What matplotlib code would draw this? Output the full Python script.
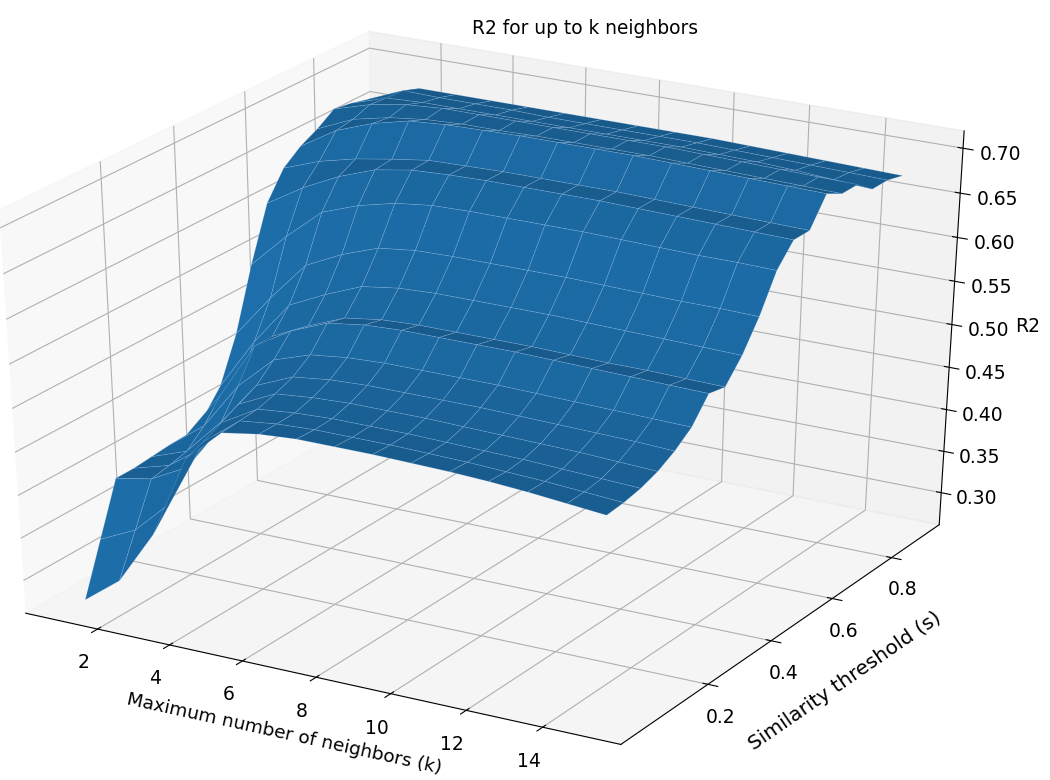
import matplotlib
matplotlib.use("Agg")
import matplotlib.pyplot as plt
import numpy as np

# neighbours on one axis, similarity threshold on the other
k_values = np.arange(1, 16)
s_values = np.arange(0, 19) * 0.05
k_ticks = [2, 4, 6, 8, 10, 12, 14]
s_ticks = [0.2, 0.4, 0.6, 0.8]
r2_ticks = [0.30, 0.35, 0.40, 0.45, 0.50, 0.55, 0.60, 0.65, 0.70]

r2_rows = [
    [.270, .302, .365, .462, .500, .507, .510, .510, .510, .509, .508, .506, .503, .499, .495],
    [.330, .350, .390, .470, .502, .507, .509, .509, .509, .508, .507, .505, .503, .500, .497],
    [.390, .398, .420, .480, .504, .508, .510, .510, .510, .509, .508, .507, .505, .503, .501],
    [.390, .402, .432, .490, .510, .514, .516, .516, .516, .515, .514, .513, .512, .510, .508],
    [.392, .407, .450, .500, .518, .523, .525, .525, .525, .525, .524, .523, .522, .521, .519],
    [.394, .425, .480, .518, .532, .537, .539, .539, .539, .539, .538, .537, .536, .535, .534],
    [.395, .450, .515, .540, .557, .563, .565, .565, .565, .565, .564, .563, .562, .561, .560],
    [.405, .450, .515, .535, .552, .558, .560, .560, .560, .560, .559, .558, .558, .557, .556],
    [.430, .490, .540, .560, .577, .583, .585, .585, .585, .585, .584, .583, .582, .581, .580],
    [.480, .530, .575, .595, .610, .615, .616, .616, .616, .616, .615, .614, .613, .613, .612],
    [.550, .590, .625, .640, .650, .655, .656, .656, .656, .656, .655, .654, .653, .653, .652],
    [.610, .635, .655, .670, .677, .679, .680, .680, .680, .680, .679, .678, .677, .676, .675],
    [.640, .655, .665, .672, .678, .679, .680, .680, .680, .680, .679, .678, .677, .676, .675],
    [.655, .680, .695, .705, .708, .709, .710, .710, .710, .710, .709, .708, .707, .706, .705],
    [.665, .683, .692, .697, .699, .699, .700, .700, .700, .700, .699, .698, .697, .696, .695],
    [.678, .690, .697, .700, .700, .700, .700, .700, .700, .700, .699, .698, .697, .696, .695],
    [.675, .688, .690, .690, .690, .690, .690, .690, .690, .690, .689, .688, .686, .683, .680],
    [.670, .687, .686, .686, .686, .685, .685, .685, .685, .685, .684, .683, .682, .681, .680],
    [.660, .680, .680, .680, .680, .680, .680, .680, .680, .680, .679, .678, .677, .676, .675],
]

X, Y = np.meshgrid(k_values, s_values)
Z = np.array(r2_rows)

fig = plt.figure(figsize=(10.5, 7.8), dpi=100)
ax = fig.add_axes([-0.098, 0.011, 1.10, 0.991], projection="3d")
# keep the axes box as given so the view stretches with the figure
ax.apply_aspect = lambda position=None: None
ax.set_box_aspect((1, 1, 1), zoom=1.0)
ax.plot_surface(X, Y, Z, rcount=50, ccount=50, color="#2079bb",
                edgecolor=(0.65, 0.82, 1.0, 0.25), linewidth=0.5)

ax.set_xticks(k_ticks)
ax.set_yticks(s_ticks)
ax.set_zticks(r2_ticks)
ax.set_title("R2 for up to k neighbors", fontsize=13.4, x=0.5955, y=1.037, pad=0)
ax.set_xlabel("Maximum number of neighbors (k)", fontsize=13.3, labelpad=12)
ax.set_ylabel("Similarity threshold (s)", fontsize=14.5, labelpad=15)
ax.set_zlabel("R2", fontsize=13.5, labelpad=9.4)
ax.tick_params(labelsize=13.5)
ax.tick_params(axis="x", pad=6.5)
ax.tick_params(axis="y", pad=8.5)
ax.tick_params(axis="z", pad=6.5)

# the s labels sit lower and further left than the centred default
for lab in ax.get_yticklabels():
    lab.set_ha("right")
    lab.set_va("top")

fig.savefig("out.png", dpi=100)
